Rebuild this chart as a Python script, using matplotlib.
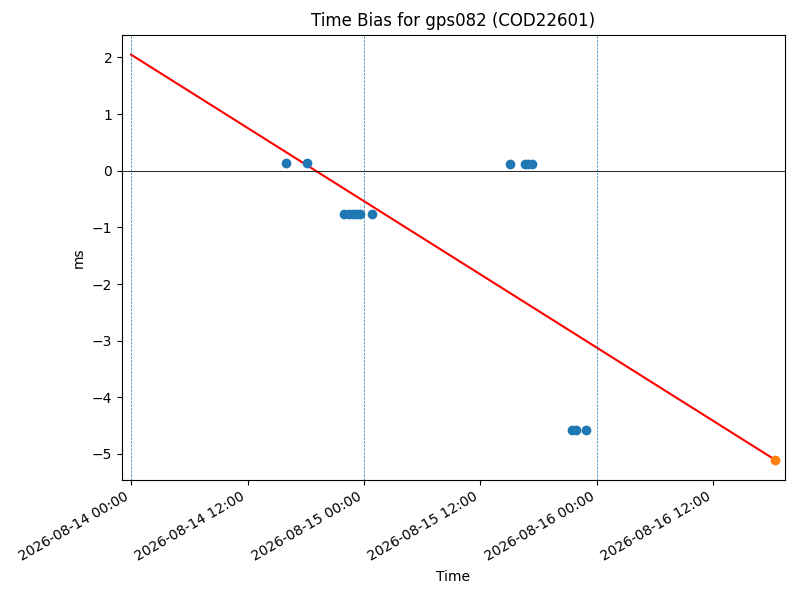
import numpy as np
import pandas as pd
import matplotlib
matplotlib.use("Agg")
import matplotlib.pyplot as plt
import matplotlib.dates as mdates

# measured time bias points (ms)
obs_times = pd.to_datetime([
    "2026-08-14 16:00", "2026-08-14 18:05",
    "2026-08-14 21:55", "2026-08-14 22:30", "2026-08-14 22:50",
    "2026-08-14 23:15", "2026-08-14 23:35", "2026-08-15 00:50",
    "2026-08-15 15:00", "2026-08-15 16:35", "2026-08-15 16:55",
    "2026-08-15 17:20",
    "2026-08-15 21:25", "2026-08-15 21:50", "2026-08-15 22:55",
])
obs_bias = [0.14, 0.14,
            -0.76, -0.76, -0.76, -0.76, -0.76, -0.76,
            0.12, 0.12, 0.12, 0.12,
            -4.57, -4.57, -4.57]

# fitted trend line and predicted point
fit_times = pd.to_datetime(["2026-08-14 00:00", "2026-08-16 18:20"])
fit_bias = [2.05, -5.10]
pred_time = pd.to_datetime(["2026-08-16 18:20"])
pred_bias = [-5.10]

day_marks = pd.to_datetime(["2026-08-14", "2026-08-15", "2026-08-16"])

fig, ax = plt.subplots(figsize=(8, 6), dpi=100)
ax.plot(fit_times, fit_bias, color="red")
ax.scatter(obs_times, obs_bias, color="C0", zorder=3)
ax.scatter(pred_time, pred_bias, color="C1", zorder=3)
ax.axhline(0, color="black", linewidth=0.6)
for d in day_marks:
    ax.axvline(d, color="C0", linestyle="--", linewidth=0.5)

ax.set_xlim(pd.Timestamp("2026-08-13 23:04"), pd.Timestamp("2026-08-16 19:22"))
ax.set_ylim(-5.46, 2.40)
ax.xaxis.set_major_locator(mdates.HourLocator(byhour=[0, 12]))
ax.xaxis.set_major_formatter(mdates.DateFormatter("%Y-%m-%d %H:%M"))
for lbl in ax.get_xticklabels():
    lbl.set_rotation(30)
    lbl.set_ha("right")

ax.set_title("Time Bias for gps082 (COD22601)")
ax.set_xlabel("Time")
ax.set_ylabel("ms")

fig.subplots_adjust(left=0.1525, right=0.981, top=0.942, bottom=0.2)
fig.savefig("out.png")
